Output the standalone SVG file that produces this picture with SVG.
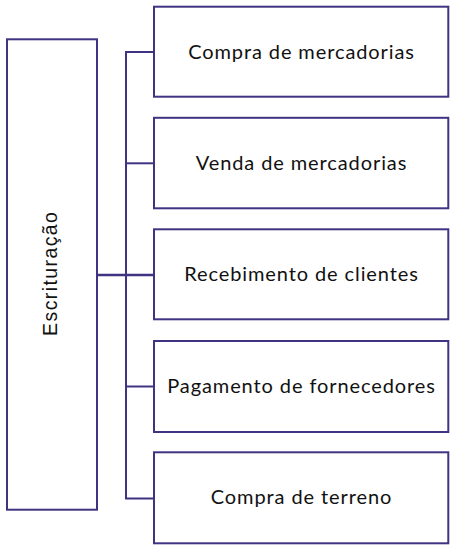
<svg xmlns="http://www.w3.org/2000/svg" width="456" height="548" viewBox="0 0 456 548">
<style>
.box{fill:#fff;stroke:#3f3382;stroke-width:2}
.lbl{font-family:Lato,"Open Sans",sans-serif;font-size:20px;letter-spacing:0.9px;fill:#111;text-anchor:middle}
.vert{font-family:"Liberation Sans",Arial,sans-serif;font-size:19.5px;letter-spacing:1.4px;fill:#111;text-anchor:middle}
.con{fill:none;stroke:#3f3382;stroke-width:2}
</style>
<rect width="456" height="548" fill="#fff"/>
<g id="connectors">
<path class="con" d="M97,275 H154" style="stroke-width:2.4"/>
<path class="con" d="M154,52 H126 V498.5 H154"/>
<path class="con" d="M126,163.3 H154"/>
<path class="con" d="M126,386.5 H154"/>
</g>
<g id="escrituracao">
<rect class="box" x="7" y="39.3" width="90" height="470.4"/>
<text class="vert" transform="translate(56.7,273.3) rotate(-90)">Escrituração</text>
</g>
<g id="compra-mercadorias">
<rect class="box" x="154" y="6.7" width="294.3" height="90"/>
<text class="lbl" x="301.5" y="58.5">Compra de mercadorias</text>
</g>
<g id="venda-mercadorias">
<rect class="box" x="154" y="117.8" width="294.3" height="90.5"/>
<text class="lbl" x="301.5" y="169.7">Venda de mercadorias</text>
</g>
<g id="recebimento-clientes">
<rect class="box" x="154" y="229.3" width="294.3" height="90"/>
<text class="lbl" x="301.5" y="281.2">Recebimento de clientes</text>
</g>
<g id="pagamento-fornecedores">
<rect class="box" x="154" y="341" width="294.3" height="91"/>
<text class="lbl" x="301.5" y="392.7">Pagamento de fornecedores</text>
</g>
<g id="compra-terreno">
<rect class="box" x="154" y="452.3" width="294.3" height="91"/>
<text class="lbl" x="301.5" y="504.2">Compra de terreno</text>
</g>
</svg>
